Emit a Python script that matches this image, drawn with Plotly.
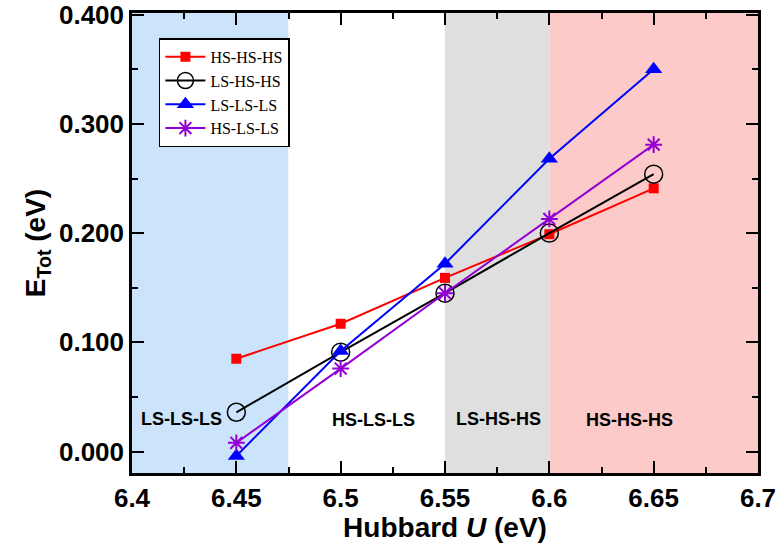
import plotly.graph_objects as go

u_vals = [6.45, 6.50, 6.55, 6.60, 6.65]
hs_hs_hs = [0.085, 0.117, 0.159, 0.199, 0.241]
ls_hs_hs = [0.036, 0.091, 0.145, 0.200, 0.254]
ls_ls_ls = [-0.004, 0.092, 0.172, 0.268, 0.350]
hs_ls_ls = [0.008, 0.076, 0.145, 0.213, 0.281]

region_bounds = [(6.40, 6.475), (6.475, 6.55), (6.55, 6.60), (6.60, 6.70)]
region_colors = ["#cbe4fb", "#ffffff", "#dfdfdf", "#fdcaca"]
region_labels = ["LS-LS-LS", "HS-LS-LS", "LS-HS-HS", "HS-HS-HS"]
region_label_x = [6.4238, 6.5159, 6.5756, 6.6384]
region_label_y = [0.030, 0.029, 0.030, 0.029]

x_ticks = [6.40, 6.45, 6.50, 6.55, 6.60, 6.65, 6.70]
x_ticktext = ["6.4", "6.45", "6.5", "6.55", "6.6", "6.65", "6.7"]
y_ticks = [0.0, 0.1, 0.2, 0.3, 0.4]
y_ticktext = ["0.000", "0.100", "0.200", "0.300", "0.400"]

fig = go.Figure()

fig.add_trace(go.Scatter(x=u_vals, y=hs_hs_hs, name="HS-HS-HS", mode="lines+markers",
                         line=dict(color="#ff0000", width=2),
                         marker=dict(symbol="square", size=10, color="#ff0000")))
fig.add_trace(go.Scatter(x=u_vals, y=ls_hs_hs, name="LS-HS-HS", mode="lines+markers",
                         line=dict(color="#000000", width=2),
                         marker=dict(symbol="circle-open", size=18, color="#000000",
                                     line=dict(width=1.5, color="#000000"))))
fig.add_trace(go.Scatter(x=u_vals, y=ls_ls_ls, name="LS-LS-LS", mode="lines+markers",
                         line=dict(color="#0000ff", width=2),
                         marker=dict(symbol="triangle-up", size=15, color="#0000ff")))
fig.add_trace(go.Scatter(x=u_vals, y=hs_ls_ls, name="HS-LS-LS", mode="lines+markers",
                         line=dict(color="#9400d3", width=2),
                         marker=dict(symbol="asterisk-open", size=14, color="#9400d3",
                                     line=dict(width=2, color="#9400d3"))))

for (x0, x1), c in zip(region_bounds, region_colors):
    fig.add_shape(type="rect", xref="x", yref="paper", x0=x0, x1=x1, y0=0, y1=1,
                  fillcolor=c, line=dict(width=0), layer="below")

for lbl, lx, ly in zip(region_labels, region_label_x, region_label_y):
    fig.add_annotation(x=lx, y=ly, text=lbl, showarrow=False,
                       font=dict(family="Liberation Sans, Arial", size=18, color="#000000", weight="bold"))

tick_font = dict(family="Liberation Sans, Arial", size=26, color="#000000", weight="bold")
title_font = dict(family="Liberation Sans, Arial", size=28, color="#000000", weight="bold")

fig.update_xaxes(range=[6.40, 6.70], tickvals=x_ticks, ticktext=x_ticktext,
                 ticks="inside", ticklen=12, tickwidth=1.5, tickcolor="#000000",
                 minor=dict(dtick=0.025, tick0=6.4, ticks="inside", ticklen=6, tickwidth=1.5, tickcolor="#000000"),
                 showline=True, linewidth=2.5, linecolor="#000000", mirror="ticks",
                 showgrid=False, zeroline=False, tickfont=tick_font, automargin=False,
                 ticklabeloverflow="allow",
                 title=dict(text="Hubbard <i>U</i> (eV)", font=title_font, standoff=2))
fig.update_yaxes(range=[-0.0196, 0.4015], tickvals=y_ticks, ticktext=y_ticktext,
                 ticks="inside", ticklen=12, tickwidth=1.5, tickcolor="#000000",
                 minor=dict(dtick=0.05, tick0=0, ticks="inside", ticklen=6, tickwidth=1.5, tickcolor="#000000"),
                 showline=True, linewidth=2.5, linecolor="#000000", mirror="ticks",
                 showgrid=False, zeroline=False, tickfont=tick_font, automargin=False,
                 ticklabeloverflow="allow",
                 title=dict(text="E<sub>Tot</sub> (eV)", font=title_font, standoff=6))

fig.update_layout(
    width=779, height=543,
    margin=dict(l=132, r=21, t=13, b=70),
    plot_bgcolor="#ffffff", paper_bgcolor="#ffffff",
    showlegend=True,
    legend=dict(x=0.043, y=0.945, xanchor="left", yanchor="top",
                bgcolor="#ffffff", bordercolor="#000000", borderwidth=1.5,
                font=dict(family="Liberation Serif, Times New Roman", size=16, color="#000000"),
                tracegroupgap=0, itemwidth=40, itemsizing="trace"),
)

fig.write_html("out.html")
